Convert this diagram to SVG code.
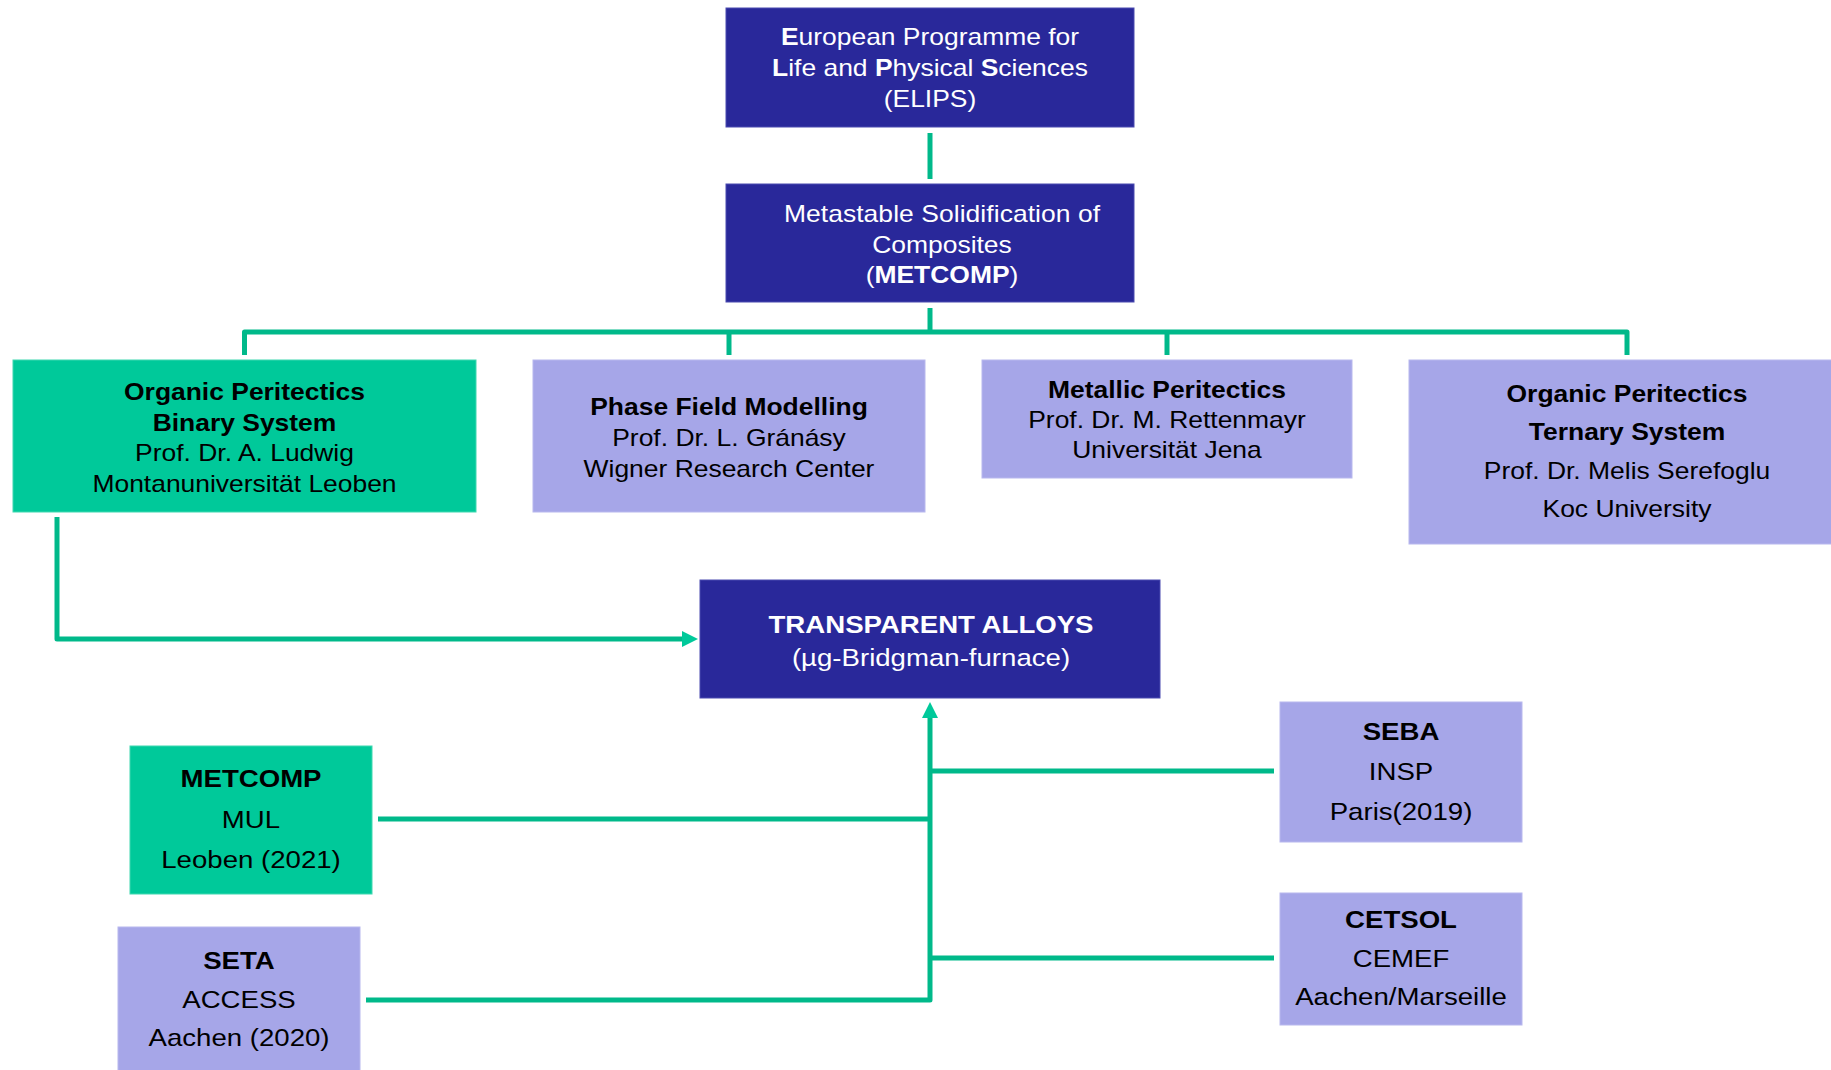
<svg xmlns="http://www.w3.org/2000/svg" width="1831" height="1070" viewBox="0 0 1831 1070">
<defs>
<style>
text{font-family:"Liberation Sans",Arial,sans-serif;font-size:23px;text-anchor:middle;fill:#000}
.w{fill:#fff}
.b{font-weight:bold}
.f24{font-size:24px}
.navy{fill:#29289A;stroke:#4a4ab0;stroke-width:1}
.green{fill:#00C99A;stroke:#3fd8b0;stroke-width:1}
.lav{fill:#A6A6E8;stroke:#b8b8ee;stroke-width:1}
.con{fill:none;stroke:#00B98A;stroke-width:5;stroke-linejoin:round}
</style>
<marker id="arr" viewBox="0 0 16 16" refX="0" refY="8" markerWidth="16" markerHeight="16" markerUnits="userSpaceOnUse" orient="auto">
<path d="M0,0 L16,8 L0,16 Z" fill="#00C99A"/>
</marker>
</defs>
<rect width="1831" height="1070" fill="#fff"/>

<g id="connectors">
<path class="con" d="M930,133 V179"/>
<path class="con" d="M930,308 V332"/>
<path class="con" d="M244.5,355 V332 H1627 V355"/>
<path class="con" d="M729,332 V355"/>
<path class="con" d="M1167,332 V355"/>
<path class="con" d="M57,517 V639 H682" marker-end="url(#arr)"/>
<path class="con" d="M366,1000 H930 V718" marker-end="url(#arr)"/>
<path class="con" d="M378,819 H930"/>
<path class="con" d="M1274,771 H930"/>
<path class="con" d="M1274,958 H930"/>
</g>

<g id="elips">
<rect class="navy" x="726" y="8" width="408" height="119"/>
<text class="w" transform="translate(930 0) scale(1.15 1)"><tspan x="0" y="45"><tspan class="b">E</tspan>uropean Programme for</tspan><tspan x="0" y="76"><tspan class="b">L</tspan>ife and <tspan class="b">P</tspan>hysical <tspan class="b">S</tspan>ciences</tspan><tspan x="0" y="107">(ELIPS)</tspan></text>
</g>

<g id="metcomp">
<rect class="navy" x="726" y="184" width="408" height="118"/>
<text class="w" transform="translate(942 0) scale(1.15 1)"><tspan x="0" y="222" textLength="275" lengthAdjust="spacing">Metastable Solidification of</tspan><tspan x="0" y="253">Composites</tspan><tspan x="0" y="283">(<tspan class="b">METCOMP</tspan>)</tspan></text>
</g>

<g id="binary">
<rect class="green" x="13" y="360" width="463" height="152"/>
<text transform="translate(244.5 0) scale(1.15 1)"><tspan class="b" x="0" y="400">Organic Peritectics</tspan><tspan class="b" x="0" y="431">Binary System</tspan><tspan x="0" y="461">Prof. Dr. A. Ludwig</tspan><tspan x="0" y="492">Montanuniversität Leoben</tspan></text>
</g>

<g id="phasefield">
<rect class="lav" x="533" y="360" width="392" height="152"/>
<text transform="translate(729 0) scale(1.15 1)"><tspan class="b" x="0" y="415">Phase Field Modelling</tspan><tspan x="0" y="446">Prof. Dr. L. Gránásy</tspan><tspan x="0" y="477">Wigner Research Center</tspan></text>
</g>

<g id="metallic">
<rect class="lav" x="982" y="360" width="370" height="118"/>
<text transform="translate(1167 0) scale(1.15 1)"><tspan class="b" x="0" y="398">Metallic Peritectics</tspan><tspan x="0" y="428">Prof. Dr. M. Rettenmayr</tspan><tspan x="0" y="458">Universität Jena</tspan></text>
</g>

<g id="ternary">
<rect class="lav" x="1409" y="360" width="430" height="184"/>
<text transform="translate(1627 0) scale(1.15 1)"><tspan class="b" x="0" y="402">Organic Peritectics</tspan><tspan class="b" x="0" y="440">Ternary System</tspan><tspan x="0" y="479">Prof. Dr. Melis Serefoglu</tspan><tspan x="0" y="517">Koc University</tspan></text>
</g>

<g id="transparent">
<rect class="navy" x="700" y="580" width="460" height="118"/>
<text class="w f24" transform="translate(931 0) scale(1.15 1)"><tspan class="b" x="0" y="633">TRANSPARENT ALLOYS</tspan><tspan x="0" y="666">(µg-Bridgman-furnace)</tspan></text>
</g>

<g id="mul">
<rect class="green" x="130" y="746" width="242" height="148"/>
<text class="f24" transform="translate(251 0) scale(1.15 1)"><tspan class="b" x="0" y="787">METCOMP</tspan><tspan x="0" y="828">MUL</tspan><tspan x="0" y="868">Leoben (2021)</tspan></text>
</g>

<g id="seta">
<rect class="lav" x="118" y="927" width="242" height="150"/>
<text class="f24" transform="translate(239 0) scale(1.15 1)"><tspan class="b" x="0" y="969">SETA</tspan><tspan x="0" y="1008">ACCESS</tspan><tspan x="0" y="1046">Aachen (2020)</tspan></text>
</g>

<g id="seba">
<rect class="lav" x="1280" y="702" width="242" height="140"/>
<text class="f24" transform="translate(1401 0) scale(1.15 1)"><tspan class="b" x="0" y="740">SEBA</tspan><tspan x="0" y="780">INSP</tspan><tspan x="0" y="820">Paris(2019)</tspan></text>
</g>

<g id="cetsol">
<rect class="lav" x="1280" y="893" width="242" height="132"/>
<text class="f24" transform="translate(1401 0) scale(1.15 1)"><tspan class="b" x="0" y="928">CETSOL</tspan><tspan x="0" y="967">CEMEF</tspan><tspan x="0" y="1005">Aachen/Marseille</tspan></text>
</g>
</svg>
